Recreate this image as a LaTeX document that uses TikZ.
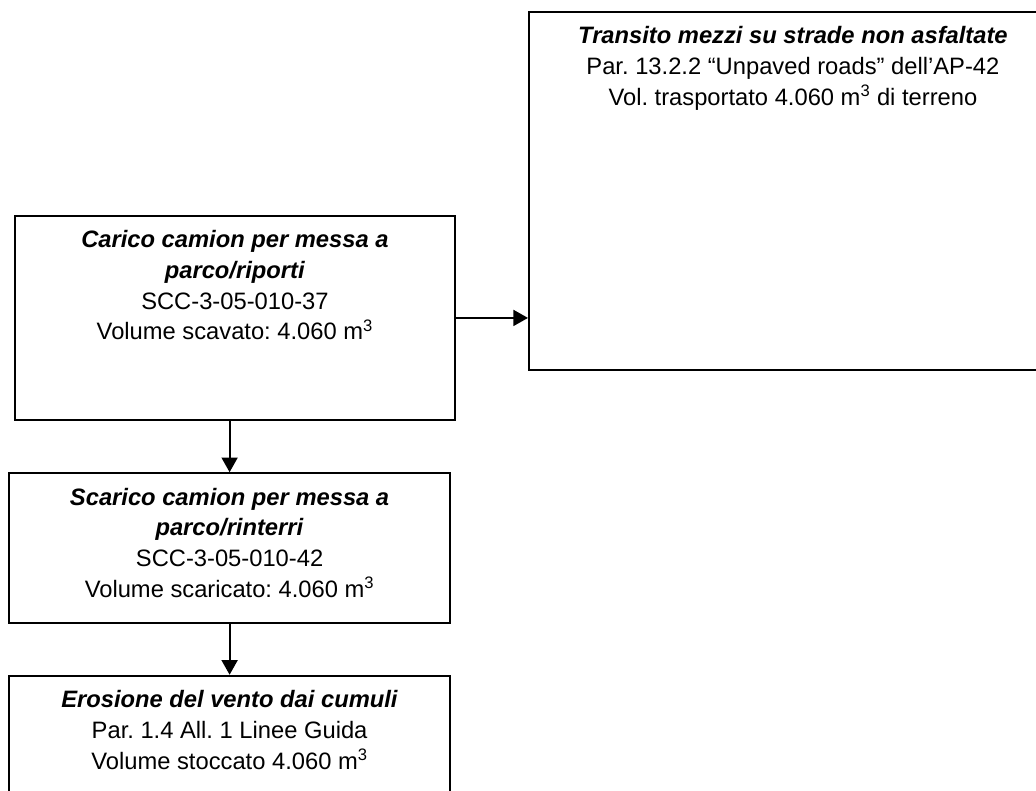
\documentclass[tikz,border=0pt]{standalone}
\usepackage{fontspec}
\setmainfont{Liberation Sans}
\usepackage{tikz}
\usetikzlibrary{arrows.meta,positioning}

\frenchspacing
\newcommand{\boxtext}[3]{\parbox[t][#2][t]{#1}{\centering\rule{0pt}{24pt}#3}}

\begin{document}
\begin{tikzpicture}[x=0.75pt, y=-0.75pt, block/.style = {rectangle, draw, line width=1.4pt, inner sep=0pt, font=\fontsize{17.8}{23}\selectfont}, line/.style = {draw, line width=1.4pt, -{Triangle[length=11pt,width=12pt]}}, node distance = 38.5pt]
			\useasboundingbox (0,0) rectangle (1036,790);
			\clip (0,0) rectangle (1036,790);
			\node[block,anchor=north west] (carico) at (14,215) {\boxtext{330pt}{153pt}{\textbf{\textit{Carico camion per messa a\\parco/riporti}}\\SCC-3-05-010-37\\Volume scavato: 4.060 m\textsuperscript{3}}};
			\node[block,anchor=north west] (transito) at (528,11) {\boxtext{396pt}{268.5pt}{\textbf{\textit{Transito mezzi su strade non asfaltate}}\\Par. 13.2.2 “Unpaved roads” dell’AP-42\\Vol. trasportato 4.060 m\textsuperscript{3} di terreno}};
			\node[block,below=of carico,xshift=-4pt] (scarico) {\boxtext{330.75pt}{112.5pt}{\textbf{\textit{Scarico camion per messa a\\parco/rinterri}}\\SCC-3-05-010-42\\Volume scaricato: 4.060 m\textsuperscript{3}}};
			\node[block,below=38pt of scarico] (erosione) {\boxtext{330.75pt}{112.5pt}{\textbf{\textit{Erosione del vento dai cumuli}}\\Par. 1.4 All. 1 Linee Guida\\Volume stoccato 4.060 m\textsuperscript{3}}};
			
			\path[line] (carico.east) -- (carico.east -| transito.west);
			\path[line] (carico.south -| scarico.north) -- (scarico.north);
			\path[line] (scarico) -- (erosione);
			\end{tikzpicture}
\end{document}
